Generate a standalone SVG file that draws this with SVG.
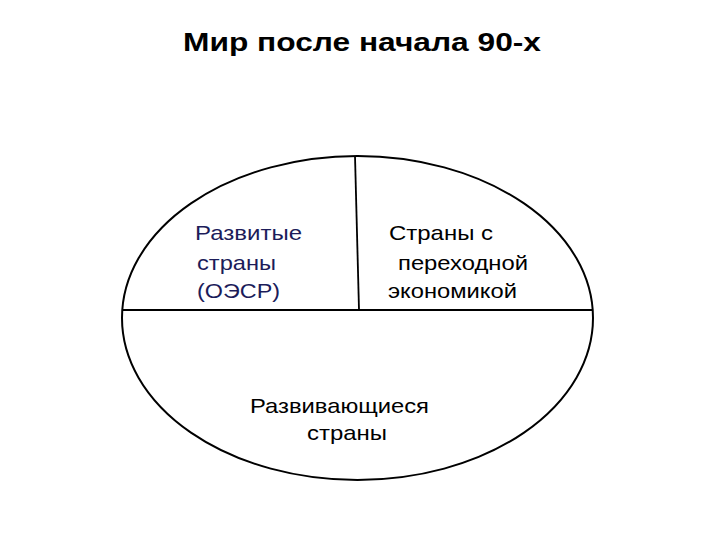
<svg xmlns="http://www.w3.org/2000/svg" width="720" height="540" viewBox="0 0 720 540">
<style>
.t{font-family:"Liberation Sans",Arial,sans-serif;font-size:21px;fill:#000}
.n{fill:#1c1c5a}
.h{font-family:"Liberation Sans",Arial,sans-serif;font-size:25px;font-weight:bold;fill:#000}
.s{fill:none;stroke:#000;stroke-width:2}
.l{stroke:#000;stroke-width:1.8}
</style>
<rect width="720" height="540" fill="#fff"/>
<text class="h" x="183" y="51" textLength="358" lengthAdjust="spacingAndGlyphs">Мир после начала 90-х</text>
<g id="world">
<ellipse class="s" cx="357.5" cy="318" rx="235.5" ry="162"/>
</g>
<g id="connectors">
<line class="l" x1="122" y1="310" x2="593" y2="310"/>
<line class="l" x1="355" y1="156" x2="359" y2="310"/>
</g>
<g id="developed">
<text class="t n" x="195" y="240" textLength="107" lengthAdjust="spacingAndGlyphs">Развитые</text>
<text class="t n" x="197" y="270" textLength="79" lengthAdjust="spacingAndGlyphs">страны</text>
<text class="t n" x="197" y="298" textLength="83" lengthAdjust="spacingAndGlyphs">(ОЭСР)</text>
</g>
<g id="transition">
<text class="t" x="389" y="240" textLength="104" lengthAdjust="spacingAndGlyphs">Страны с</text>
<text class="t" x="398" y="270" textLength="130" lengthAdjust="spacingAndGlyphs">переходной</text>
<text class="t" x="388" y="298" textLength="129" lengthAdjust="spacingAndGlyphs">экономикой</text>
</g>
<g id="developing">
<text class="t" x="250" y="413" textLength="179" lengthAdjust="spacingAndGlyphs">Развивающиеся</text>
<text class="t" x="307" y="440" textLength="80" lengthAdjust="spacingAndGlyphs">страны</text>
</g>
</svg>
